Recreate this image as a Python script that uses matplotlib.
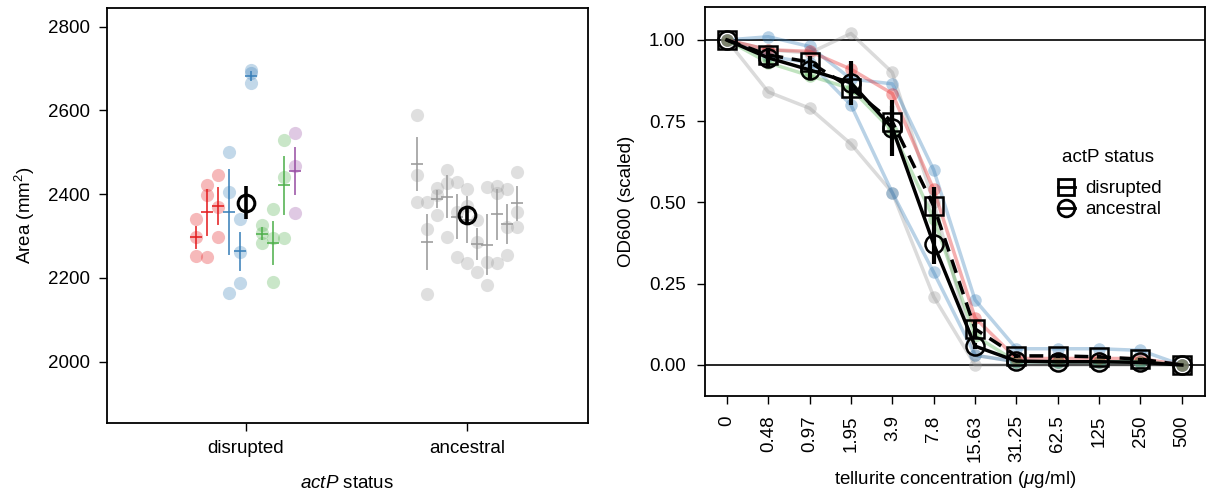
import numpy as np
import matplotlib.pyplot as plt
from matplotlib.lines import Line2D

plt.rcParams['font.family'] = ['Liberation Sans', 'DejaVu Sans']
plt.rcParams['mathtext.fontset'] = 'custom'
plt.rcParams['mathtext.rm'] = 'Liberation Sans'
plt.rcParams['mathtext.it'] = 'Liberation Sans:italic'
plt.rcParams['font.size'] = 13.5

red = '#E41A1C'
blue = '#377EB8'
green = '#4DAF4A'
purple = '#984EA3'
grey = '#989898'

# colony area (mm^2), three replicates per strain
disrupted_area = [
    [2340.8, 2298.5, 2253.1],
    [2422.0, 2398.1, 2250.7],
    [2445.9, 2370.1, 2298.5],
    [2501.5, 2406.0, 2163.3],
    [2340.1, 2262.7, 2187.2],
    [2696.6, 2688.7, 2664.4],
    [2326.7, 2306.6, 2284.2],
    [2363.9, 2294.7, 2191.0],
    [2529.4, 2440.4, 2294.7],
    [2545.4, 2468.1, 2354.4],
]
disrupted_cols = [red, red, red, blue, blue, blue, green, green, green, purple]

ancestral_area = [
    [2589.1, 2445.9, 2380.7],
    [2380.7, 2316.2, 2161.7],
    [2414.1, 2398.8, 2350.3],
    [2457.8, 2425.8, 2298.5],
    [2429.9, 2358.2, 2250.7],
    [2411.7, 2370.9, 2235.0],
    [2338.4, 2286.6, 2214.9],
    [2416.5, 2238.8, 2183.2],
    [2419.6, 2402.1, 2235.0],
    [2411.7, 2322.4, 2254.8],
    [2453.7, 2358.2, 2322.4],
]
ancestral_cols = [grey] * 11

groups = ['disrupted', 'ancestral']

# tellurite dose response, OD600 scaled to the no-tellurite well
conc_labels = ['0', '0.48', '0.97', '1.95', '3.9', '7.8', '15.63', '31.25', '62.5', '125', '250', '500']
strain_curves = [
    ([1.00, 0.97, 0.96, 1.02, 0.90, 0.50, 0.03, 0.01, 0.01, 0.01, 0.01, 0.00], grey),
    ([1.00, 0.84, 0.79, 0.68, 0.53, 0.21, 0.00, 0.00, 0.00, 0.00, 0.00, 0.00], grey),
    ([1.00, 1.01, 0.98, 0.88, 0.865, 0.60, 0.20, 0.05, 0.05, 0.05, 0.045, 0.00], blue),
    ([1.00, 0.95, 0.93, 0.80, 0.53, 0.285, 0.03, 0.01, 0.01, 0.01, 0.01, 0.00], blue),
    ([1.00, 0.97, 0.965, 0.91, 0.835, 0.54, 0.145, 0.02, 0.02, 0.02, 0.02, 0.00], red),
    ([1.00, 0.93, 0.89, 0.85, 0.72, 0.45, 0.09, 0.01, 0.01, 0.01, 0.01, 0.00], green),
]
disrupted_od = [1.00, 0.954, 0.932, 0.852, 0.748, 0.489, 0.111, 0.028, 0.028, 0.025, 0.018, 0.00]
disrupted_se = [0.00, 0.020, 0.020, 0.030, 0.050, 0.060, 0.025, 0.005, 0.005, 0.005, 0.005, 0.00]
ancestral_od = [1.00, 0.945, 0.908, 0.868, 0.729, 0.372, 0.058, 0.012, 0.010, 0.010, 0.008, 0.00]
ancestral_se = [0.00, 0.030, 0.030, 0.067, 0.085, 0.060, 0.010, 0.003, 0.003, 0.003, 0.003, 0.00]

fig = plt.figure(figsize=(12.06, 4.93), dpi=100)

# ---- left: colony area ----
ax1 = fig.add_axes([107 / 1206, 70 / 493, 481 / 1206, 415 / 493])
for g, (areas, cols) in enumerate([(disrupted_area, disrupted_cols), (ancestral_area, ancestral_cols)]):
    pos = g + 1
    xs = np.linspace(pos - 0.225, pos + 0.225, len(areas))
    means = []
    for x, reps, c in zip(xs, areas, cols):
        reps = np.array(reps)
        m = reps.mean()
        se = reps.std(ddof=1) / np.sqrt(len(reps))
        ax1.scatter([x] * len(reps), reps, s=90, color=c, alpha=0.3, lw=0, zorder=2)
        ax1.plot([x, x], [m - se, m + se], color=c, alpha=0.8, lw=1.4, zorder=3)
        ax1.plot(x, m, marker='_', ms=8, mew=1.4, color=c, alpha=0.8, zorder=3)
        means.append(m)
    means = np.array(means)
    ax1.errorbar(pos, means.mean(), yerr=means.std(ddof=1) / np.sqrt(len(means)),
                 fmt='o', mfc='none', mec='k', ms=12, mew=2.2, ecolor='k',
                 elinewidth=2.6, capsize=0, zorder=5)

ax1.set_xlim(0.375, 2.545)
ax1.set_ylim(1853.6, 2844.6)
ax1.set_yticks([2000, 2200, 2400, 2600, 2800])
ax1.set_xticks([1, 2])
ax1.set_xticklabels(groups)
ax1.tick_params(length=6, width=1, direction='out', pad=6)
ax1.set_ylabel(r'Area (mm$^2$)', labelpad=8)
ax1.set_xlabel(r'$\it{actP}$ status', labelpad=13)
for s in ax1.spines.values():
    s.set_linewidth(1.3)

# ---- right: tellurite dose response ----
ax2 = fig.add_axes([705 / 1206, 97 / 493, 500 / 1206, 389 / 493])
xi = np.arange(len(conc_labels))
ax2.axhline(1, color='k', lw=1.2, zorder=1)
ax2.axhline(0, color='k', lw=1.2, zorder=1)
for vals, c in strain_curves:
    ax2.plot(xi, vals, color=c, alpha=0.35, lw=2.5, marker='o', ms=9, mew=0, zorder=2)

ax2.errorbar(xi, disrupted_od, yerr=disrupted_se, color='k', ls='--', lw=2.5,
             marker='s', ms=13, mfc='none', mec='k', mew=1.8,
             elinewidth=3, capsize=0, zorder=4, dashes=(4, 2.5))
ax2.errorbar(xi, ancestral_od, yerr=ancestral_se, color='k', ls='-', lw=2.5,
             marker='o', ms=13, mfc='none', mec='k', mew=1.8,
             elinewidth=3, capsize=0, zorder=4)

ax2.set_xlim(-0.53, 11.56)
ax2.set_ylim(-0.0954, 1.1015)
ax2.set_yticks([0, 0.25, 0.5, 0.75, 1.0])
ax2.set_yticklabels(['0.00', '0.25', '0.50', '0.75', '1.00'])
ax2.set_xticks(xi)
ax2.set_xticklabels(conc_labels, rotation=90)
ax2.tick_params(length=6, width=1, direction='out', pad=8)
ax2.set_ylabel('OD600 (scaled)', labelpad=10)
ax2.set_xlabel(r'tellurite concentration ($\mathit{\mu}$g/ml)', labelpad=5)
for s in ax2.spines.values():
    s.set_linewidth(1.3)

handles = [
    Line2D([0], [0], color='k', lw=2, marker='s', ms=12, mfc='none', mew=2),
    Line2D([0], [0], color='k', lw=2, marker='o', ms=12, mfc='none', mew=2),
]
ax2.text(0.806, 0.614, 'actP status', transform=ax2.transAxes, ha='center', va='center')
ax2.legend(handles, groups, frameon=False, handlelength=0.9,
           handletextpad=0.6, loc='center', bbox_to_anchor=(0.81, 0.506),
           labelspacing=0.2, fontsize=13.5)

fig.savefig('out.png', dpi=100)
